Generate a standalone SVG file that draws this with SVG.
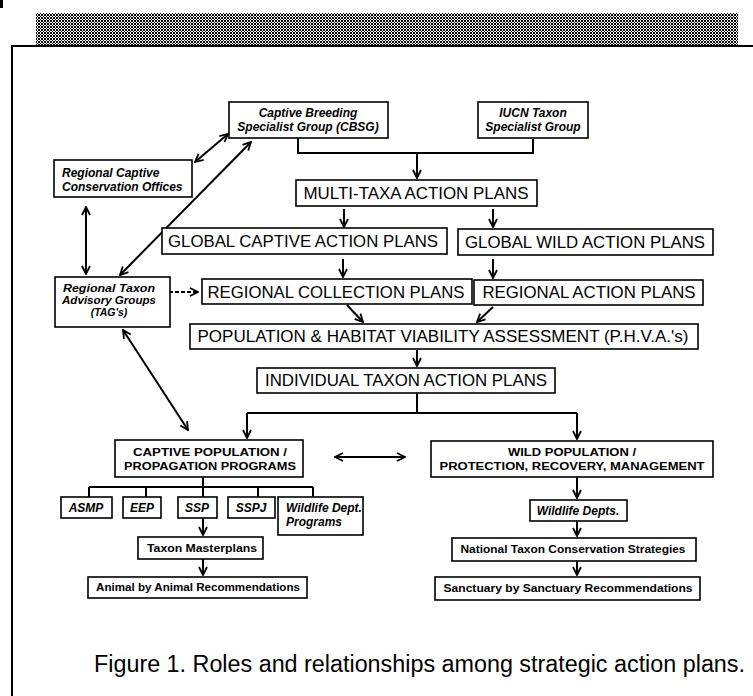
<svg xmlns="http://www.w3.org/2000/svg" width="753" height="696" viewBox="0 0 753 696">
<style>
.bx{fill:#fff;stroke:#000;stroke-width:1.6}
.c{fill:none;stroke:#000;stroke-width:2}
.big{font-family:"Liberation Sans",Arial,sans-serif;font-size:16.5px;fill:#000;text-anchor:middle}
.it{font-family:"Liberation Sans",Arial,sans-serif;font-size:12px;font-weight:bold;font-style:italic;fill:#000;text-anchor:middle}
.it2{font-family:"Liberation Sans",Arial,sans-serif;font-size:10.5px;font-weight:bold;font-style:italic;fill:#000;text-anchor:middle}
.bd{font-family:"Liberation Sans",Arial,sans-serif;font-size:11.5px;font-weight:bold;fill:#000;text-anchor:middle}
.sm{font-family:"Liberation Sans",Arial,sans-serif;font-size:11.5px;font-weight:bold;fill:#000;text-anchor:middle}
.cap{font-family:"Liberation Sans",Arial,sans-serif;font-size:23px;fill:#000}
</style>
<defs>
<pattern id="hatch" width="3" height="3" patternUnits="userSpaceOnUse">
<rect width="3" height="3" fill="#fff"/>
<rect x="0" y="0" width="1" height="1" fill="#000"/>
<rect x="1" y="1" width="1" height="1" fill="#000"/>
<rect x="2" y="2" width="1" height="1" fill="#000"/>
<rect x="2" y="0" width="1" height="1" fill="#000"/>
<rect x="0" y="2" width="1" height="1" fill="#000"/>
</pattern>
<marker id="arr" viewBox="0 0 10 10" refX="9" refY="5" markerWidth="10" markerHeight="10" markerUnits="userSpaceOnUse" orient="auto-start-reverse">
<path d="M1,1 L9,5 L1,9" fill="none" stroke="#000" stroke-width="1.8"/>
</marker>
</defs>
<rect width="753" height="696" fill="#fff"/>
<g id="frame">
<rect x="0" y="0" width="3" height="8" fill="#000"/>
<rect x="36" y="13" width="702" height="33" fill="url(#hatch)"/>
<path d="M12,696 V46 H753" fill="none" stroke="#000" stroke-width="2"/>
</g>
<g id="connectors">
<path class="c" d="M298,138 V153 H533 V139"/>
<path class="c" d="M417,153 V178" marker-end="url(#arr)"/>
<path class="c" d="M344,209 V227" marker-end="url(#arr)"/>
<path class="c" d="M493,209 V227" marker-end="url(#arr)"/>
<path class="c" d="M343,259 V277" marker-end="url(#arr)"/>
<path class="c" d="M493,259 V278" marker-end="url(#arr)"/>
<path class="c" d="M347,305 L363,322" marker-end="url(#arr)"/>
<path class="c" d="M493,307 L477,322" marker-end="url(#arr)"/>
<path class="c" d="M417,350 V366" marker-end="url(#arr)"/>
<path class="c" d="M417,393 V413 M247,413 H577"/>
<path class="c" d="M247,413 V438" marker-end="url(#arr)"/>
<path class="c" d="M577,413 V439" marker-end="url(#arr)"/>
<path class="c" d="M335,457 H405" marker-start="url(#arr)" marker-end="url(#arr)"/>
<path class="c" d="M203,477 V497 M89,487 H313 M89,487 V497 M146,487 V497 M258,487 V497 M313,487 V497"/>
<path class="c" d="M203,518 V535" marker-end="url(#arr)"/>
<path class="c" d="M203,559 V575" marker-end="url(#arr)"/>
<path class="c" d="M577,477 V498" marker-end="url(#arr)"/>
<path class="c" d="M577,521 V536" marker-end="url(#arr)"/>
<path class="c" d="M577,561 V575" marker-end="url(#arr)"/>
<path class="c" d="M195,162 L228,134" marker-start="url(#arr)" marker-end="url(#arr)"/>
<path class="c" d="M120,275 L251,142" marker-start="url(#arr)" marker-end="url(#arr)"/>
<path class="c" d="M86,207 V274" marker-start="url(#arr)" marker-end="url(#arr)"/>
<path class="c" d="M163,292 H198" stroke-dasharray="4,2" marker-end="url(#arr)"/>
<path class="c" d="M123,330 L188,430" marker-start="url(#arr)" marker-end="url(#arr)"/>
</g>
<g id="cbsg"><rect class="bx" x="229" y="102" width="159" height="36"/>
<text class="it" x="308" y="117">Captive Breeding</text>
<text class="it" x="308" y="131">Specialist Group (CBSG)</text></g>
<g id="iucn"><rect class="bx" x="478" y="102" width="110" height="36"/>
<text class="it" x="533" y="117">IUCN Taxon</text>
<text class="it" x="533" y="131">Specialist Group</text></g>
<g id="rcco"><rect class="bx" x="54" y="160" width="138" height="37"/>
<text class="it" x="62" y="177" style="text-anchor:start">Regional Captive</text>
<text class="it" x="62" y="191" style="text-anchor:start">Conservation Offices</text></g>
<g id="multi"><rect class="bx" x="296" y="180" width="241" height="26"/>
<text class="big" x="416" y="199" textLength="225" lengthAdjust="spacingAndGlyphs">MULTI-TAXA ACTION PLANS</text></g>
<g id="gcap"><rect class="bx" x="162" y="228" width="285" height="26"/>
<text class="big" x="303" y="247" textLength="270" lengthAdjust="spacingAndGlyphs">GLOBAL CAPTIVE ACTION PLANS</text></g>
<g id="gwild"><rect class="bx" x="458" y="229" width="255" height="26"/>
<text class="big" x="585" y="248" textLength="240" lengthAdjust="spacingAndGlyphs">GLOBAL WILD ACTION PLANS</text></g>
<g id="tag"><rect class="bx" x="55" y="277" width="115" height="50"/>
<text class="it2" x="109" y="292" textLength="92" lengthAdjust="spacingAndGlyphs">Regional Taxon</text>
<text class="it2" x="109" y="304" textLength="94" lengthAdjust="spacingAndGlyphs">Advisory Groups</text>
<text class="it2" x="109" y="316">(TAG's)</text></g>
<g id="rcoll"><rect class="bx" x="202" y="279" width="270" height="25"/>
<text class="big" x="336" y="298" textLength="257" lengthAdjust="spacingAndGlyphs">REGIONAL COLLECTION PLANS</text></g>
<g id="ract"><rect class="bx" x="474" y="280" width="229" height="25"/>
<text class="big" x="589" y="298" textLength="213" lengthAdjust="spacingAndGlyphs">REGIONAL ACTION PLANS</text></g>
<g id="phva"><rect class="bx" x="190" y="324" width="508" height="25"/>
<text class="big" x="443" y="342" textLength="491" lengthAdjust="spacingAndGlyphs">POPULATION &amp; HABITAT VIABILITY ASSESSMENT (P.H.V.A.'s)</text></g>
<g id="itap"><rect class="bx" x="257" y="368" width="298" height="25"/>
<text class="big" x="406" y="386" textLength="282" lengthAdjust="spacingAndGlyphs">INDIVIDUAL TAXON ACTION PLANS</text></g>
<g id="captive"><rect class="bx" x="115" y="440" width="188" height="37"/>
<text class="bd" x="210" y="456" textLength="154" lengthAdjust="spacingAndGlyphs">CAPTIVE POPULATION /</text>
<text class="bd" x="210" y="470" textLength="172" lengthAdjust="spacingAndGlyphs">PROPAGATION PROGRAMS</text></g>
<g id="wild"><rect class="bx" x="431" y="441" width="282" height="36"/>
<text class="bd" x="572" y="456" textLength="128" lengthAdjust="spacingAndGlyphs">WILD POPULATION /</text>
<text class="bd" x="572" y="470" textLength="265" lengthAdjust="spacingAndGlyphs">PROTECTION, RECOVERY, MANAGEMENT</text></g>
<g id="asmp"><rect class="bx" x="61" y="497" width="51" height="21"/><text class="it" x="86" y="512">ASMP</text></g>
<g id="eep"><rect class="bx" x="123" y="497" width="38" height="21"/><text class="it" x="142" y="512">EEP</text></g>
<g id="ssp"><rect class="bx" x="178" y="497" width="39" height="21"/><text class="it" x="197" y="512">SSP</text></g>
<g id="sspj"><rect class="bx" x="228" y="497" width="47" height="21"/><text class="it" x="251" y="512">SSPJ</text></g>
<g id="wdp"><rect class="bx" x="278" y="497" width="85" height="38"/>
<text class="it" x="286" y="512" style="text-anchor:start">Wildlife Dept.</text>
<text class="it" x="286" y="526" style="text-anchor:start">Programs</text></g>
<g id="tmp"><rect class="bx" x="138" y="537" width="125" height="22"/>
<text class="sm" x="202" y="552" textLength="110" lengthAdjust="spacingAndGlyphs">Taxon Masterplans</text></g>
<g id="aar"><rect class="bx" x="88" y="577" width="219" height="21"/>
<text class="sm" x="198" y="591" textLength="204" lengthAdjust="spacingAndGlyphs">Animal by Animal Recommendations</text></g>
<g id="wd"><rect class="bx" x="530" y="500" width="97" height="21"/>
<text class="it" x="578" y="515">Wildlife Depts.</text></g>
<g id="ntcs"><rect class="bx" x="452" y="538" width="244" height="23"/>
<text class="sm" x="573" y="553" textLength="225" lengthAdjust="spacingAndGlyphs">National Taxon Conservation Strategies</text></g>
<g id="ssr"><rect class="bx" x="435" y="577" width="265" height="23"/>
<text class="sm" x="568" y="592" textLength="249" lengthAdjust="spacingAndGlyphs">Sanctuary by Sanctuary Recommendations</text></g>
<g id="caption">
<text class="cap" x="94" y="672" textLength="651" lengthAdjust="spacingAndGlyphs">Figure 1.  Roles and relationships among strategic action plans.</text>
</g>
</svg>
